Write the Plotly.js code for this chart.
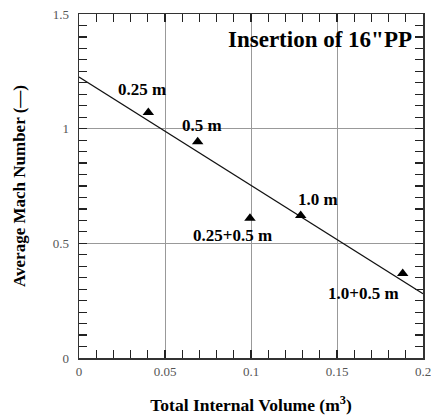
<!DOCTYPE html>
<html>
<head>
<meta charset="utf-8">
<script src="https://cdn.plot.ly/plotly-3.0.1.min.js"></script>
<style>html,body{margin:0;padding:0;background:#fff;}#chart{width:431px;height:415px;}</style>
</head>
<body>
<div id="chart"></div>
<script>
// Data points (volume m^3, average Mach number)
const pointLabels = ["0.25 m", "0.5 m", "0.25+0.5 m", "1.0 m", "1.0+0.5 m"];
const volume = [0.0403, 0.069, 0.0994, 0.1289, 0.1882];
const mach = [1.07, 0.943, 0.609, 0.621, 0.369];
// Fitted line end points
const fitX = [0, 0.2];
const fitY = [1.225, 0.28];
// Label anchor positions (data coords)
const labelX = [0.0364, 0.0715, 0.0892, 0.1387, 0.1656];
const labelY = [1.171, 1.016, 0.536, 0.692, 0.282];
// Tick labels
const xTickVals = [0, 0.05, 0.1, 0.15, 0.2];
const xTickText = ["0", "0.05", "0.1", "0.15", "0.2"];
const yTickVals = [0, 0.5, 1, 1.5];
const yTickText = ["0", "0.5", "1", "1.5"];
const chartTitle = 'Insertion of 16"PP';
const xTitle = 'Total Internal Volume (m<sup>3</sup>)';
const yTitle = 'Average Mach Number (\u2014)';

const serif = '"Liberation Serif", "Times New Roman", serif';

const traces = [
  {x: fitX, y: fitY, mode: 'lines', line: {color: '#111', width: 1.2}, hoverinfo: 'skip'},
  {x: volume, y: mach, mode: 'markers', marker: {symbol: 'triangle-up', size: 10, color: '#000'}},
  // invisible trace to activate the tick-mark axes
  {x: fitX, y: fitY, xaxis: 'x2', yaxis: 'y2', mode: 'lines', line: {width: 0}, opacity: 0, hoverinfo: 'skip'}
];

const annotations = pointLabels.map((t, i) => ({
  x: labelX[i], y: labelY[i], xref: 'x', yref: 'y', text: '<b>' + t + '</b>',
  showarrow: false, font: {family: serif, size: 17, color: '#000'}
}));
annotations.push({
  x: 0.1945, y: 1.39, xref: 'x', yref: 'y', xanchor: 'right', text: '<b>' + chartTitle + '</b>',
  showarrow: false, font: {family: serif, size: 23, color: '#000'}
});

const layout = {
  width: 431, height: 415,
  margin: {l: 79, r: 8, t: 14, b: 57},
  paper_bgcolor: '#fff', plot_bgcolor: '#fff',
  showlegend: false,
  xaxis: {
    range: [0, 0.2], tickmode: 'array', tickvals: xTickVals, ticktext: xTickText,
    showline: true, linecolor: '#333', linewidth: 1.5, mirror: true,
    ticks: '', showgrid: true, gridcolor: '#999', gridwidth: 1, zeroline: false,
    tickfont: {family: serif, size: 13, color: '#555'},
    ticklabeloverflow: 'allow', ticklabelstandoff: 1,
    title: {text: '<b>' + xTitle + '</b>', font: {family: serif, size: 17.5, color: '#000'}, standoff: 25}
  },
  yaxis: {
    range: [0, 1.5], tickmode: 'array', tickvals: yTickVals, ticktext: yTickText,
    showline: true, linecolor: '#333', linewidth: 1.5, mirror: true,
    ticks: '', showgrid: true, gridcolor: '#999', gridwidth: 1, zeroline: false,
    tickfont: {family: serif, size: 13, color: '#555'},
    ticklabeloverflow: 'allow', ticklabelstandoff: 6,
    title: {text: '<b>' + yTitle + '</b>', font: {family: serif, size: 17, color: '#000'}, standoff: 22}
  },
  xaxis2: {
    overlaying: 'x', anchor: 'y2', range: [0, 0.2], dtick: 0.01,
    ticks: 'inside', ticklen: 8, tickcolor: '#222', tickwidth: 1.2,
    showline: true, linecolor: '#333', linewidth: 1.5, mirror: 'ticks',
    showticklabels: false, showgrid: false
  },
  yaxis2: {
    overlaying: 'y', anchor: 'x2', range: [0, 1.5], dtick: 0.05,
    ticks: 'inside', ticklen: 8, tickcolor: '#222', tickwidth: 1.2,
    showline: true, linecolor: '#333', linewidth: 1.5, mirror: 'ticks',
    showticklabels: false, showgrid: false
  },
  annotations: annotations
};

Plotly.newPlot('chart', traces, layout, {displayModeBar: false, staticPlot: true});
</script>
</body>
</html>
